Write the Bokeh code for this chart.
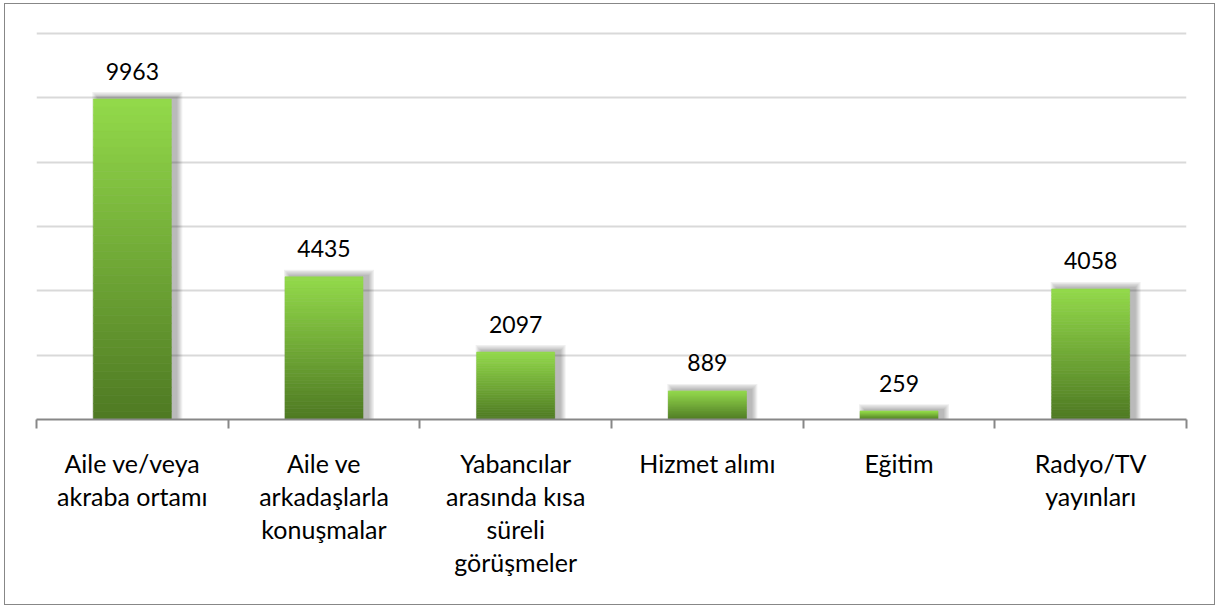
from bokeh.plotting import figure
from bokeh.models import (Range1d, LinearAxis, FixedTicker, ColumnDataSource, Grid)
from bokeh.embed import file_html
from bokeh.resources import INLINE
from bokeh.core.properties import value

# ---- data ----
categories = ["Aile ve/veya\nakraba ortamı", "Aile ve\narkadaşlarla\nkonuşmalar",
              "Yabancılar\narasında kısa\nsüreli\ngörüşmeler", "Hizmet alımı",
              "Eğitim", "Radyo/TV\nyayınları"]
counts = [9963, 4435, 2097, 889, 259, 4058]
grid_ticks = [2000, 4000, 6000, 8000, 10000, 12000]

FONT = "Lato"
W, H = 1209, 600
FRAME_W = 1150
PX_PER_UNIT = 386 / 12000       # 2000 units = ~64.3 px
FRAME_H = 392
TOP_B = 23
YTOP = FRAME_H / PX_PER_UNIT
n = len(categories)
centers = [i + 0.5 for i in range(n)]
edges = [float(i) for i in range(n + 1)]

p = figure(x_range=Range1d(0, n), y_range=Range1d(0, YTOP),
           width=W, height=H, output_backend="svg", toolbar_location=None,
           x_axis_location=None, y_axis_location=None,
           min_border_left=31, min_border_right=28, min_border_top=TOP_B,
           min_border_bottom=H - TOP_B - FRAME_H)
p.frame_width = FRAME_W
p.frame_height = FRAME_H
p.outline_line_color = None
p.xgrid.grid_line_color = None
p.ygrid.grid_line_color = None
p.background_fill_color = "white"
p.border_fill_color = "white"
p.styles = {"border": "1.5px solid #878787", "box-sizing": "border-box",
            "margin-left": "4px", "margin-top": "3px"}

# horizontal gridlines
p.add_layout(Grid(dimension=1, ticker=FixedTicker(ticks=grid_ticks),
                  grid_line_color="#D9D9D9", grid_line_width=2), "center")

px_x = n / FRAME_W        # x units per pixel
px_y = 1 / PX_PER_UNIT    # value units per pixel
bar_w = 78 * px_x

# soft shadows
for k in range(1, 6):
    src = ColumnDataSource(dict(x=[c + 5 * px_x for c in centers],
                                top=[v + (1 + 1.2 * k) * px_y for v in counts]))
    p.vbar(x="x", top="top", bottom=0,
           width=bar_w + 2 * k * 1.2 * px_x, source=src,
           fill_color="black", fill_alpha=0.06, line_color=None)

# gradient bars (light top -> dark bottom)
top_rgb = (147, 218, 74)
bot_rgb = (78, 121, 35)
N = 40
xs, bots, tops, cols = [], [], [], []
for c, v in zip(centers, counts):
    for k in range(N):
        t = (k + 0.5) / N
        rgb = tuple(int(round(bot_rgb[j] + (top_rgb[j] - bot_rgb[j]) * t)) for j in range(3))
        xs.append(c)
        bots.append(v * k / N)
        tops.append(v * (k + 1) / N)
        cols.append("#%02x%02x%02x" % rgb)
bsrc = ColumnDataSource(dict(x=xs, bottom=bots, top=tops, color=cols))
p.vbar(x="x", bottom="bottom", top="top", width=bar_w, source=bsrc,
       fill_color="color", line_color="color", line_width=0.6)

# value labels
lsrc = ColumnDataSource(dict(x=centers, y=counts, t=[str(v) for v in counts]))
p.text(x="x", y="y", text="t", source=lsrc, text_align="center",
       text_baseline="alphabetic", y_offset=-28, text_font=value(FONT),
       text_font_size="23px", text_color="black")

# axis: line, boundary ticks (minor), category labels at centres (major)
axis = LinearAxis(ticker=FixedTicker(ticks=centers, minor_ticks=edges),
                  axis_line_color="#878787", axis_line_width=2,
                  major_tick_line_color=None, major_tick_out=0, major_tick_in=0,
                  minor_tick_line_color="#878787", minor_tick_line_width=2,
                  minor_tick_out=9, minor_tick_in=0,
                  major_label_overrides=dict(zip(centers, categories)),
                  major_label_text_font=FONT,
                  major_label_text_font_size="25px",
                  major_label_text_color="black",
                  major_label_text_line_height=1.1,
                  major_label_standoff=19)
p.add_layout(axis, "below")

open("out.html", "w").write(file_html(p, INLINE))
